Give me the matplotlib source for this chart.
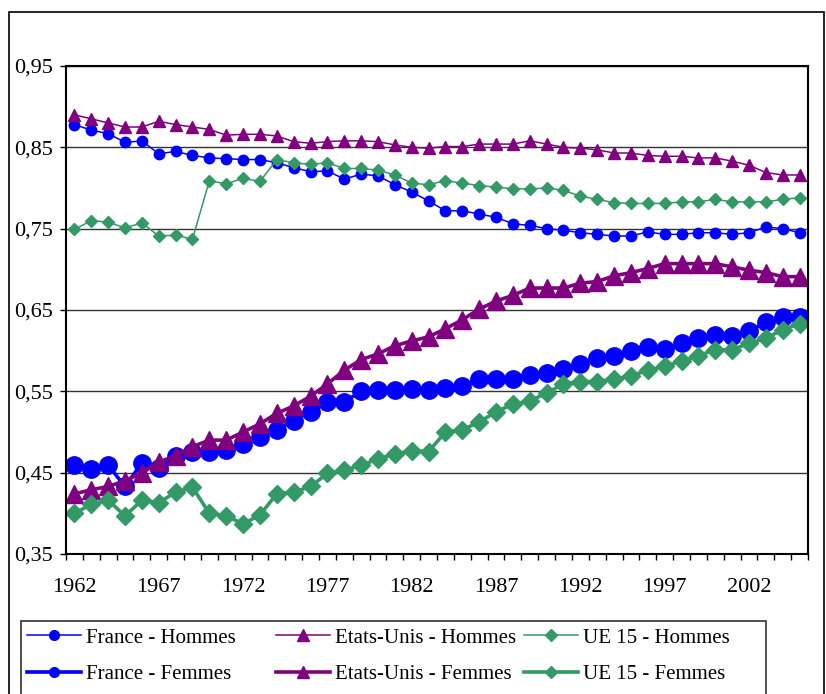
import matplotlib
matplotlib.use("Agg")
import matplotlib.pyplot as plt
from matplotlib.patches import Rectangle
from matplotlib.ticker import FuncFormatter

# years on the x axis
years = list(range(1962, 2006))

# France
france_hommes = [0.878, 0.871, 0.867, 0.856, 0.858, 0.842, 0.845, 0.840, 0.837, 0.836,
                 0.835, 0.835, 0.831, 0.825, 0.820, 0.821, 0.811, 0.817, 0.815, 0.804,
                 0.795, 0.784, 0.772, 0.772, 0.768, 0.764, 0.756, 0.754, 0.750, 0.748,
                 0.745, 0.743, 0.741, 0.741, 0.746, 0.743, 0.743, 0.745, 0.745, 0.743,
                 0.745, 0.752, 0.750, 0.745]
france_femmes = [0.459, 0.454, 0.459, 0.433, 0.462, 0.456, 0.470, 0.475, 0.475, 0.478,
                 0.485, 0.494, 0.503, 0.514, 0.525, 0.537, 0.537, 0.550, 0.552, 0.552,
                 0.553, 0.552, 0.554, 0.556, 0.565, 0.565, 0.565, 0.570, 0.573, 0.578,
                 0.584, 0.591, 0.593, 0.600, 0.605, 0.602, 0.609, 0.615, 0.619, 0.618,
                 0.624, 0.635, 0.641, 0.642]

# Etats-Unis
us_hommes = [0.890, 0.885, 0.880, 0.875, 0.875, 0.882, 0.878, 0.875, 0.872, 0.865,
             0.866, 0.866, 0.864, 0.857, 0.855, 0.857, 0.858, 0.858, 0.857, 0.853,
             0.850, 0.849, 0.851, 0.851, 0.854, 0.854, 0.854, 0.858, 0.854, 0.850,
             0.849, 0.847, 0.843, 0.843, 0.840, 0.839, 0.839, 0.837, 0.837, 0.833,
             0.828, 0.819, 0.816, 0.816]
us_femmes = [0.424, 0.429, 0.433, 0.440, 0.450, 0.463, 0.471, 0.482, 0.490, 0.490,
             0.500, 0.510, 0.523, 0.532, 0.544, 0.559, 0.576, 0.589, 0.596, 0.606,
             0.612, 0.617, 0.627, 0.638, 0.651, 0.661, 0.668, 0.677, 0.677, 0.677,
             0.683, 0.685, 0.692, 0.696, 0.701, 0.707, 0.707, 0.707, 0.707, 0.703,
             0.699, 0.696, 0.691, 0.691]

# UE 15
ue_hommes = [0.749, 0.760, 0.758, 0.751, 0.757, 0.741, 0.742, 0.737, 0.809, 0.805,
             0.812, 0.808, 0.835, 0.831, 0.829, 0.831, 0.824, 0.824, 0.822, 0.816,
             0.806, 0.804, 0.809, 0.806, 0.803, 0.801, 0.799, 0.799, 0.800, 0.797,
             0.790, 0.786, 0.782, 0.781, 0.781, 0.781, 0.783, 0.783, 0.786, 0.783,
             0.783, 0.783, 0.786, 0.788]
ue_femmes = [0.400, 0.411, 0.416, 0.397, 0.416, 0.413, 0.426, 0.432, 0.400, 0.397,
             0.387, 0.398, 0.424, 0.426, 0.433, 0.449, 0.453, 0.459, 0.467, 0.473,
             0.477, 0.476, 0.500, 0.503, 0.512, 0.525, 0.534, 0.538, 0.548, 0.559,
             0.562, 0.562, 0.565, 0.569, 0.576, 0.581, 0.587, 0.594, 0.601, 0.601,
             0.609, 0.615, 0.626, 0.633]

year_labels = [1962, 1967, 1972, 1977, 1982, 1987, 1992, 1997, 2002]
y_ticks = [0.35, 0.45, 0.55, 0.65, 0.75, 0.85, 0.95]

BLUE = "#0000ff"
PURPLE = "#800080"
GREEN = "#339966"

plt.rcParams["font.family"] = ["Liberation Serif", "DejaVu Serif"]
plt.rcParams["font.size"] = 16

W, H = 826, 694
fig = plt.figure(figsize=(W / 100, H / 100), dpi=100)
ax = fig.add_axes([66 / W, 1 - 554 / H, (808 - 66) / W, (554 - 66) / H])

# hommes: thin lines, small markers / femmes: thick lines, big markers
fh, = ax.plot(years, france_hommes, color=BLUE, lw=1.1, marker="o", ms=7.5, label="France - Hommes")
ff, = ax.plot(years, france_femmes, color=BLUE, lw=2.6, marker="o", ms=12.5, label="France - Femmes")
uh, = ax.plot(years, us_hommes, color=PURPLE, lw=1.1, marker="^", ms=9, label="Etats-Unis - Hommes")
uf, = ax.plot(years, us_femmes, color=PURPLE, lw=2.6, marker="^", ms=13.5, label="Etats-Unis - Femmes")
eh, = ax.plot(years, ue_hommes, color=GREEN, lw=1.1, marker="D", ms=6.3, label="UE 15 - Hommes")
ef, = ax.plot(years, ue_femmes, color=GREEN, lw=2.6, marker="D", ms=9.5, label="UE 15 - Femmes")

ax.set_xlim(1961.5, 2005.5)
ax.set_ylim(0.35, 0.95)
ax.set_yticks(y_ticks)
ax.yaxis.set_major_formatter(FuncFormatter(lambda v, p: ("%.2f" % v).replace(".", ",")))
ax.set_xticks(year_labels)
ax.set_xticks([y - 0.5 for y in years] + [2005.5], minor=True)
ax.tick_params(axis="x", which="major", length=0, pad=17)
ax.tick_params(axis="x", which="minor", length=4.3, width=1, direction="out")
ax.tick_params(axis="y", which="major", length=4.3, width=1, direction="out", pad=5)
ax.grid(axis="y", color="#333333", lw=1)
ax.set_axisbelow(True)
for s in ax.spines.values():
    s.set_linewidth(1.5)
    s.set_color("black")

# outer chart frame and legend frame (both run past the bottom edge)
fig.patches.append(Rectangle((9 / W, -0.05), (824 - 9) / W, 1.05 - 12 / H,
                             transform=fig.transFigure, fill=False, ec="black", lw=1.2))
fig.patches.append(Rectangle((21 / W, -0.05), (766 - 21) / W, 0.05 + 1 - 621 / H,
                             transform=fig.transFigure, fill=False, ec="#333333", lw=1.2))

# three legend columns placed like the spreadsheet legend
cols = [([fh, ff], 27, 7), ([uh, uf], 276, 9), ([eh, ef], 524, 6.5)]
for handles, x0, msize in cols:
    leg = fig.legend(handles=handles, loc="upper left", bbox_to_anchor=(x0 / W, 1 - 628 / H),
                     frameon=False, borderpad=0, borderaxespad=0, handlelength=2.6,
                     handletextpad=0.22, labelspacing=0.8, fontsize=15)
    for line in leg.get_lines():
        line.set_markersize(msize)

fig.savefig("out.png", dpi=100)
